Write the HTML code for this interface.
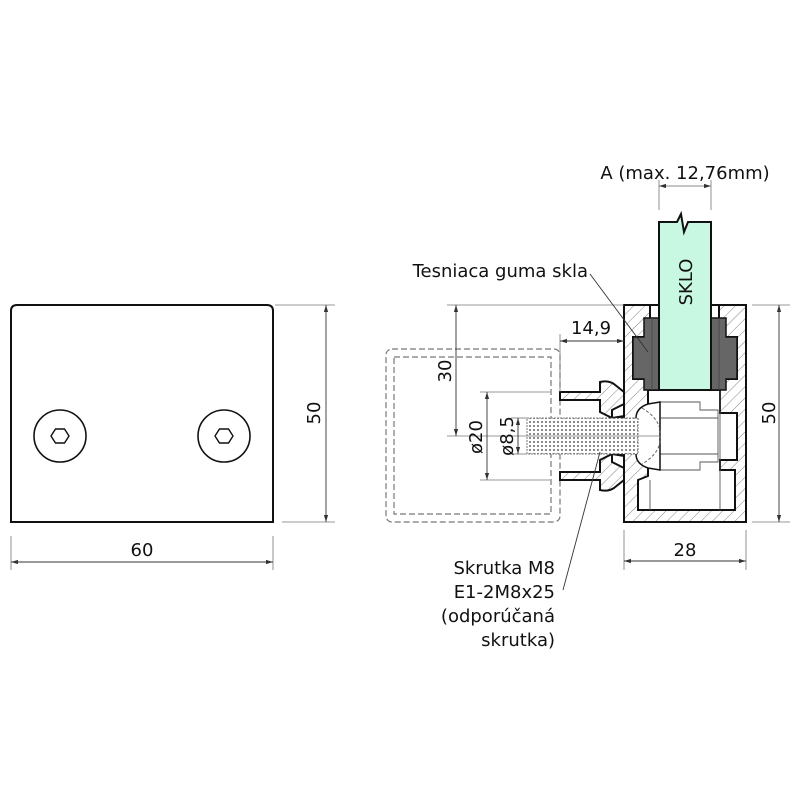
<!DOCTYPE html>
<html><head><meta charset="utf-8"><style>
html,body{margin:0;padding:0;background:#fff}
svg{display:block}
text{font-family:"DejaVu Sans","Liberation Sans",sans-serif;font-size:18px;fill:#111}
</style></head><body>
<svg width="800" height="800" viewBox="0 0 800 800" xmlns="http://www.w3.org/2000/svg">
<defs>
<pattern id="h" patternUnits="userSpaceOnUse" width="8" height="8" patternTransform="rotate(45)">
<rect width="8" height="8" fill="#fff"/><line x1="0" y1="0" x2="0" y2="8" stroke="#777" stroke-width="0.9"/>
</pattern>
<pattern id="t" patternUnits="userSpaceOnUse" width="4" height="4">
<rect width="4" height="4" fill="#fff"/><circle cx="2" cy="2" r="1" fill="#666"/>
</pattern>
<marker id="a" viewBox="0 0 10 10" refX="10" refY="5" markerWidth="8" markerHeight="8" orient="auto-start-reverse"><path d="M0,2 L10,5 L0,8 z" fill="#333"/></marker>
</defs>

<!-- Left plate -->
<path d="M11,522 V311 Q11,305 17,305 H267 Q273,305 273,311 V522 Z" fill="none" stroke="#111" stroke-width="2"/>
<circle cx="60" cy="436" r="26" fill="none" stroke="#111" stroke-width="1.6"/>
<polygon points="51,436 55.5,429 64.5,429 69,436 64.5,443 55.5,443" fill="none" stroke="#111" stroke-width="1.4"/>
<circle cx="224" cy="436" r="26" fill="none" stroke="#111" stroke-width="1.6"/>
<polygon points="215,436 219.5,429 228.5,429 233,436 228.5,443 219.5,443" fill="none" stroke="#111" stroke-width="1.4"/>
<g stroke="#777" stroke-width="0.8">
<line x1="275" y1="305" x2="335" y2="305"/><line x1="282" y1="522" x2="335" y2="522"/>
<line x1="11" y1="536" x2="11" y2="570"/><line x1="273" y1="536" x2="273" y2="570"/>
</g>
<line x1="326" y1="305" x2="326" y2="522" stroke="#333" stroke-width="0.9" marker-start="url(#a)" marker-end="url(#a)"/>
<line x1="11" y1="562" x2="273" y2="562" stroke="#333" stroke-width="0.9" marker-start="url(#a)" marker-end="url(#a)"/>
<text x="142" y="556" text-anchor="middle">60</text>
<text transform="translate(320,413) rotate(-90)" text-anchor="middle">50</text>

<!-- Dashed square -->
<rect x="386" y="349" width="174" height="173" rx="6" fill="none" stroke="#777" stroke-width="1.2" stroke-dasharray="6,3"/>
<rect x="394" y="357" width="157" height="157" fill="none" stroke="#777" stroke-width="1.2" stroke-dasharray="6,3"/>

<!-- Body -->
<rect x="624" y="305" width="122" height="217" fill="url(#h)" stroke="#111" stroke-width="2"/>
<path d="M650,305 H719 V337 H737 V379 H719 V390 H650 V379 H633 V337 H650 Z" fill="#fff" stroke="#111" stroke-width="2"/>
<path d="M648,390 H720 V413 H737 V460 H720 V470 H735 V510 H638 V480 L648,476 V398 Z" fill="#fff" stroke="#111" stroke-width="2"/>
<!-- tongue upper -->
<path d="M560,392 H600 V382 Q608,380 614,384 L624,392 V404 L612,410 V418 L624,416 V418 H612 L600,412 V400 H560 Z" fill="url(#h)" stroke="#111" stroke-width="2"/>
<!-- tongue lower -->
<path d="M560,480 H600 V490 Q608,492 614,488 L624,480 V468 L612,462 V454 L624,456 V454 H612 L600,460 V472 H560 Z" fill="url(#h)" stroke="#111" stroke-width="2"/>
<!-- insert lines -->
<g fill="none" stroke="#555" stroke-width="0.9">
<path d="M660,402 H700 V410 H718 V462 H700 V470 H660"/>
<line x1="660" y1="418" x2="718" y2="418"/><line x1="660" y1="454" x2="718" y2="454"/>
<line x1="720" y1="390" x2="720" y2="510"/><line x1="650" y1="480" x2="650" y2="510"/>
</g>
<!-- bolt head -->
<path d="M660,402 L648,404 Q636,408 636,418 V454 Q636,464 648,468 L660,470 Z" fill="#fff" stroke="#111" stroke-width="1.5"/>
<path d="M642,408 Q662,420 660,436 Q662,452 642,464" fill="none" stroke="#555" stroke-width="0.9" stroke-dasharray="3,2"/>
<!-- screw -->
<rect x="527" y="418" width="111" height="36" fill="url(#t)" stroke="#555" stroke-width="0.8" stroke-dasharray="2,1"/>

<!-- gaskets -->
<path d="M644,318 H659 V390 H644 V379 H633 V337 H644 Z" fill="#666" stroke="#111" stroke-width="1.5"/>
<path d="M711,318 H726 V337 H737 V379 H726 V390 H711 Z" fill="#666" stroke="#111" stroke-width="1.5"/>
<line x1="652" y1="318" x2="652" y2="390" stroke="#444" stroke-width="0.8"/>
<line x1="719" y1="318" x2="719" y2="390" stroke="#444" stroke-width="0.8"/>
<!-- glass -->
<path d="M659,390 V222 H677 L681,214 L684,232 L688,222 H711 V390 Z" fill="#c8f7e2" stroke="#111" stroke-width="2"/>
<text transform="translate(692,282) rotate(-90)" text-anchor="middle">SKLO</text>

<!-- dims right -->
<g stroke="#777" stroke-width="0.8" fill="none">
<line x1="447" y1="305" x2="624" y2="305"/>
<line x1="447" y1="436" x2="660" y2="436"/>
<line x1="480" y1="392" x2="550" y2="392"/><line x1="480" y1="480" x2="550" y2="480"/>
<line x1="511" y1="418" x2="527" y2="418"/><line x1="511" y1="454" x2="527" y2="454"/>
<line x1="560" y1="334" x2="560" y2="392"/>
<line x1="752" y1="305" x2="790" y2="305"/><line x1="752" y1="522" x2="790" y2="522"/>
<line x1="624" y1="530" x2="624" y2="570"/><line x1="746" y1="530" x2="746" y2="570"/>
<line x1="659" y1="180" x2="659" y2="210"/><line x1="711" y1="180" x2="711" y2="210"/>
</g>
<g stroke="#333" stroke-width="0.9" fill="none">
<line x1="456" y1="305" x2="456" y2="436" marker-start="url(#a)" marker-end="url(#a)"/>
<line x1="487" y1="392" x2="487" y2="480" marker-start="url(#a)" marker-end="url(#a)"/>
<line x1="518" y1="418" x2="518" y2="454" marker-start="url(#a)" marker-end="url(#a)"/>
<line x1="560" y1="341" x2="624" y2="341" marker-start="url(#a)" marker-end="url(#a)"/>
<line x1="779" y1="305" x2="779" y2="522" marker-start="url(#a)" marker-end="url(#a)"/>
<line x1="624" y1="561" x2="746" y2="561" marker-start="url(#a)" marker-end="url(#a)"/>
<line x1="659" y1="186" x2="711" y2="186" stroke="#888" marker-start="url(#a)" marker-end="url(#a)"/>
<line x1="590" y1="274" x2="648" y2="352"/>
<line x1="563" y1="590" x2="600" y2="452"/>
</g>
<text transform="translate(451,371) rotate(-90)" text-anchor="middle">30</text>
<text transform="translate(482,437) rotate(-90)" text-anchor="middle">ø20</text>
<text transform="translate(513,436) rotate(-90)" text-anchor="middle">ø8,5</text>
<text x="591" y="334" text-anchor="middle">14,9</text>
<text transform="translate(775,413) rotate(-90)" text-anchor="middle">50</text>
<text x="685" y="556" text-anchor="middle">28</text>
<text x="685" y="179" text-anchor="middle">A (max. 12,76mm)</text>
<text x="588" y="277" text-anchor="end">Tesniaca guma skla</text>
<text x="555" y="574" text-anchor="end">Skrutka M8</text>
<text x="555" y="598" text-anchor="end">E1-2M8x25</text>
<text x="555" y="622" text-anchor="end">(odporúčaná</text>
<text x="555" y="646" text-anchor="end">skrutka)</text>
</svg>
</body></html>
